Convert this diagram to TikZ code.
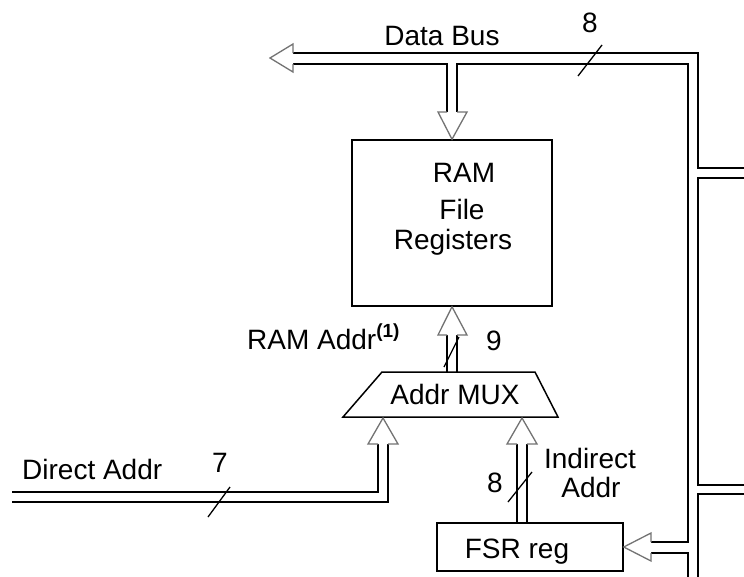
\documentclass[tikz,border=0pt]{standalone}
\usepackage{fontspec}
\setmainfont{Liberation Sans}
\begin{document}
\begin{tikzpicture}[x=1pt,y=-1pt,
  box/.style={draw, line width=1.5pt, inner sep=0pt},
  lbl/.style={font=\fontsize{28}{32}\selectfont, inner sep=0pt},
  wire/.style={line width=1.6pt, line cap=rect},
  head/.style={draw=black!55, line width=1.3pt, fill=white, line join=miter},
  slash/.style={line width=1.3pt}]
\useasboundingbox (0,0) rectangle (744,576);

% boxes
\node[box, minimum width=200pt, minimum height=166pt] (ram) at (452,223) {};
\coordinate (m1) at (382,372);
\coordinate (m2) at (535,372);
\coordinate (m3) at (558,417);
\coordinate (m4) at (343,417);
\draw[line width=1.5pt, line join=miter] (m1) -- (m2) -- (m3) -- (m4) -- cycle;
\node[box, minimum width=186pt, minimum height=48pt] (fsr) at (530,547) {};

% texts
\node[lbl, anchor=base] (tram) at (464,182) {RAM};
\node[lbl, anchor=base] (tfile) at (462,219) {File};
\node[lbl, anchor=base] (treg) at (453,249) {Registers};
\node[lbl, anchor=base] (tmux) at (455,404) {Addr MUX};
\node[lbl, anchor=base] (tfsr) at (517,558) {FSR reg};
\node[lbl, anchor=base] (tbus) at (442,45) {Data Bus};
\node[lbl, anchor=base] (t8a) at (590,32) {8};
\node[lbl, anchor=base west] (tramaddr) at (247,349) {RAM Addr\raisebox{12pt}{\fontsize{19}{20}\selectfont\bfseries (1)}};
\node[lbl, anchor=base] (t9) at (494,350) {9};
\node[lbl, anchor=base west] (tdirect) at (22,479) {Direct Addr};
\node[lbl, anchor=base] (t7) at (220,472) {7};
\node[lbl, anchor=base] (t8b) at (495,492) {8};
\node[lbl, anchor=base] (tind1) at (590,468) {Indirect};
\node[lbl, anchor=base] (tind2) at (591,497) {Addr};

% data bus
\draw[wire] (293,53) -- (698,53) -- (698,168) -- (744,168);
\draw[wire] (744,178) -- (698,178) -- (698,485) -- (744,485);
\draw[wire] (744,494) -- (698,494) -- (698,576);
\draw[wire] (293,64) -- (447,64) -- (447,112);
\draw[wire] (457,112) -- (457,64) -- (688,64) -- (688,542) -- (651,542);
\draw[wire] (651,553) -- (688,553) -- (688,576);
\draw[head] (293,53) -- (293,44) -- (270,58) -- (293,72) -- (293,64);
\draw[head] (447,112) -- (438,112) -- (ram.north) -- (467,112) -- (457,112);
\draw[slash] (578,76) -- (602,45);

% RAM addr
\draw[wire] (447,372) -- (447,335);
\draw[wire] (457,372) -- (457,335);
\draw[head] (447,335) -- (438,335) -- (ram.south) -- (467,335) -- (457,335);
\draw[slash] (444,367) -- (459,337);

% direct addr
\draw[wire] (13,492) -- (378,492) -- (378,444);
\draw[wire] (13,502) -- (388,502) -- (388,444);
\draw[head] (378,444) -- (368,444) -- (383,418) -- (398,444) -- (388,444);
\draw[slash] (208,517) -- (230,487);

% indirect addr
\draw[wire] (517,523) -- (517,444);
\draw[wire] (527,523) -- (527,444);
\draw[head] (517,444) -- (507,444) -- (522,418) -- (537,444) -- (527,444);
\draw[slash] (508,502) -- (532,472);

% FSR input
\draw[head] (651,542) -- (651,533) -- (fsr.east) -- (651,561) -- (651,553);
\end{tikzpicture}
\end{document}
